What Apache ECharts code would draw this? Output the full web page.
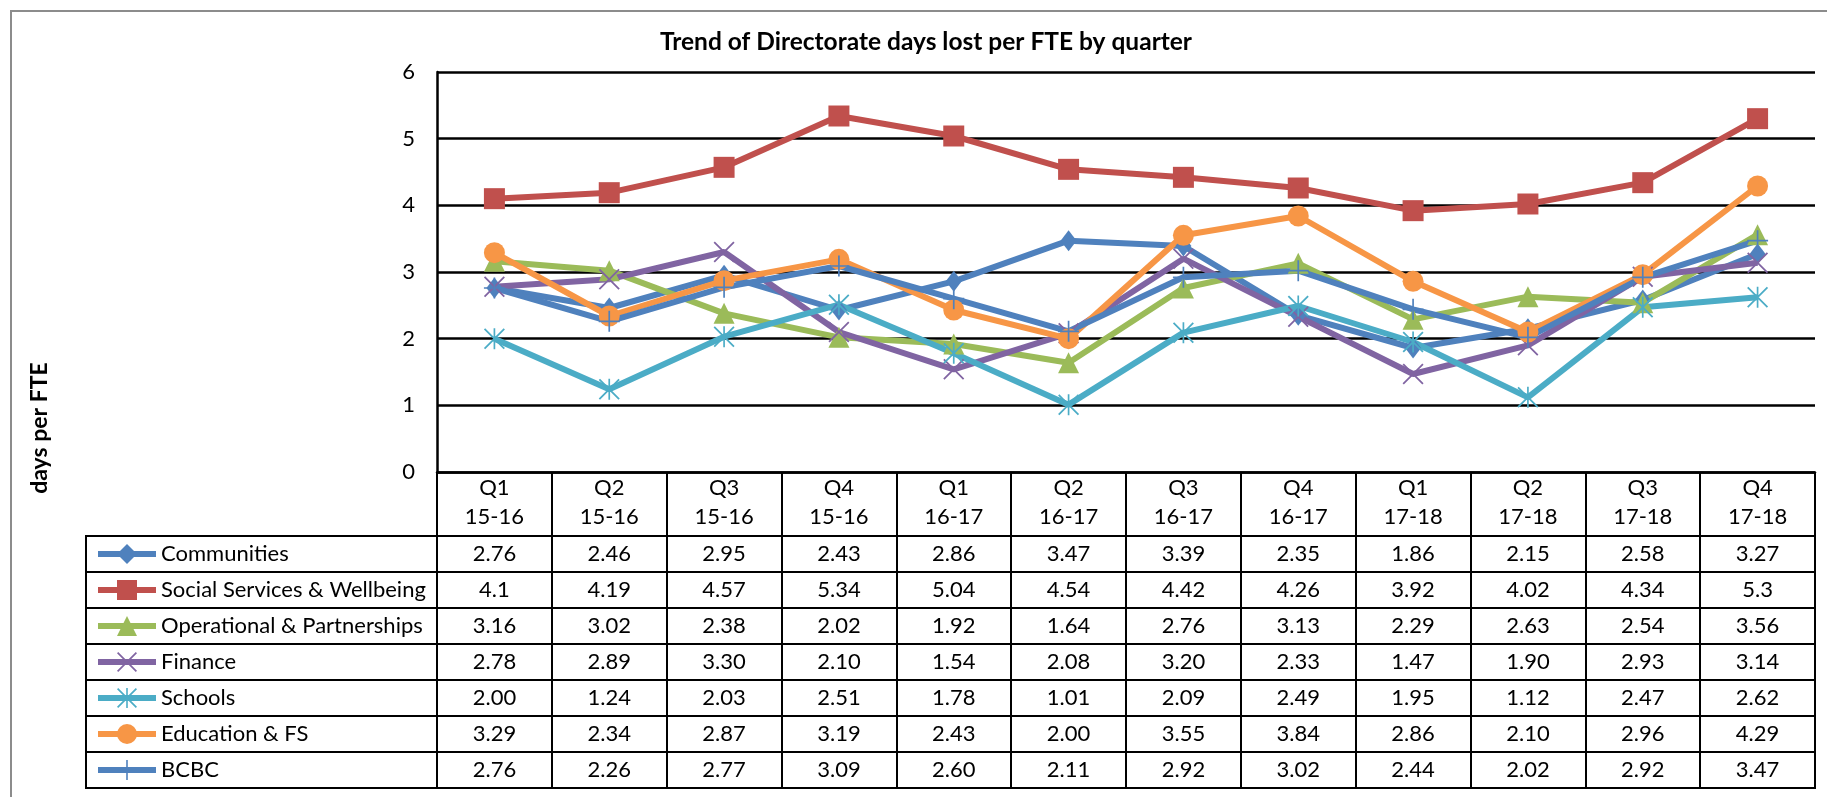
<!DOCTYPE html>
<html>
<head>
<meta charset="utf-8">
<script src="https://cdn.jsdelivr.net/npm/echarts@6/dist/echarts.min.js"></script>
<style>
html, body { margin: 0; padding: 0; background: #fff; }
#chart { width: 1827px; height: 797px; }
</style>
</head>
<body>
<div id="chart"></div>
<script>
// quarters / years on the category axis
const quarters = ['Q1', 'Q2', 'Q3', 'Q4', 'Q1', 'Q2', 'Q3', 'Q4', 'Q1', 'Q2', 'Q3', 'Q4'];
const years = ['15-16', '15-16', '15-16', '15-16', '16-17', '16-17', '16-17', '16-17', '17-18', '17-18', '17-18', '17-18'];

const seriesNames = ['Communities', 'Social Services & Wellbeing', 'Operational & Partnerships', 'Finance', 'Schools', 'Education & FS', 'BCBC'];

const communities = [2.76, 2.46, 2.95, 2.43, 2.86, 3.47, 3.39, 2.35, 1.86, 2.15, 2.58, 3.27];
const socialServices = [4.1, 4.19, 4.57, 5.34, 5.04, 4.54, 4.42, 4.26, 3.92, 4.02, 4.34, 5.3];
const operational = [3.16, 3.02, 2.38, 2.02, 1.92, 1.64, 2.76, 3.13, 2.29, 2.63, 2.54, 3.56];
const finance = [2.78, 2.89, 3.30, 2.10, 1.54, 2.08, 3.20, 2.33, 1.47, 1.90, 2.93, 3.14];
const schools = [2.00, 1.24, 2.03, 2.51, 1.78, 1.01, 2.09, 2.49, 1.95, 1.12, 2.47, 2.62];
const education = [3.29, 2.34, 2.87, 3.19, 2.43, 2.00, 3.55, 3.84, 2.86, 2.10, 2.96, 4.29];
const bcbc = [2.76, 2.26, 2.77, 3.09, 2.60, 2.11, 2.92, 3.02, 2.44, 2.02, 2.92, 3.47];

// table shows 2 decimals except the social services row (general format)
const fixedTwo = [true, false, true, true, true, true, true];

const seriesData = [communities, socialServices, operational, finance, schools, education, bcbc];
const colors = ['#4F81BD', '#C0504D', '#9BBB59', '#8064A2', '#4BACC6', '#F79646', '#4F81BD'];

const X_PATH = 'path://M0,1.2L1.2,0L20,18.8L18.8,20Z M18.8,0L20,1.2L1.2,20L0,18.8Z';
const STAR_PATH = X_PATH + ' M9.2,0h1.6v20h-1.6Z';
const PLUS_PATH = 'path://M9.2,0h1.6v9.2h9.2v1.6h-9.2v9.2h-1.6v-9.2h-9.2v-1.6h9.2Z';
const symbols = ['diamond', 'rect', 'triangle', X_PATH, STAR_PATH, 'circle', PLUS_PATH];
const symbolSizes = [[16, 21], 21, 21, 21, 21, 21, 21];

const FONT = 'Lato';
const categories = quarters.map(function (q, i) { return q + ' ' + years[i]; });

function fmt(v, k) {
    return fixedTwo[k] ? v.toFixed(2) : String(v);
}

const series = seriesNames.map(function (name, k) {
    return {
        name: name,
        type: 'line',
        xAxisIndex: 0,
        yAxisIndex: 0,
        data: seriesData[k],
        symbol: symbols[k],
        symbolSize: symbolSizes[k],
        showAllSymbol: true,
        lineStyle: { color: colors[k], width: 6 },
        itemStyle: { color: colors[k], borderWidth: 0 },
        emphasis: { disabled: true },
        animation: false
    };
});

let option = {
    backgroundColor: '#fff',
    textStyle: { fontFamily: FONT },
    grid: [
        { left: 437, right: 12, top: 72, height: 400 },
        { left: 437, right: 12, top: 536, height: 252, show: true, borderColor: '#000', borderWidth: 2 },
        { left: 86, width: 351, top: 536, height: 252, show: true, borderColor: '#000', borderWidth: 2 }
    ],
    legend: {
        orient: 'vertical',
        left: 95,
        top: 541.5,
        padding: 0,
        itemWidth: 58,
        itemHeight: 25,
        itemGap: 11,
        selectedMode: false,
        lineStyle: { width: 6 },
        textStyle: { fontSize: 22, color: '#000', fontFamily: FONT, lineHeight: 25 },
        data: seriesNames
    },
    xAxis: [
        {
            type: 'category',
            gridIndex: 0,
            data: categories,
            boundaryGap: true,
            axisLine: { lineStyle: { color: '#000', width: 2.5 } },
            axisTick: { show: true, interval: 0, length: 64, lineStyle: { color: '#000', width: 2 } },
            axisLabel: {
                interval: 0,
                margin: 2,
                color: '#000',
                formatter: function (v, i) {
                    let s = '{h|' + quarters[i] + '}\n{h|' + years[i] + '}\n{g| }';
                    seriesData.forEach(function (d, k) {
                        s += '\n{v|' + fmt(d[i], k) + '}';
                    });
                    return s;
                },
                rich: {
                    h: { fontSize: 22, lineHeight: 28.7, color: '#000', fontFamily: FONT },
                    g: { fontSize: 4, lineHeight: 4.6 },
                    v: { fontSize: 22, lineHeight: 36, color: '#000', fontFamily: FONT }
                }
            }
        },
        {
            type: 'category',
            gridIndex: 1,
            data: categories,
            boundaryGap: true,
            axisLine: { show: false },
            axisTick: { show: false },
            axisLabel: { show: false },
            splitLine: { show: true, interval: 0, lineStyle: { color: '#000', width: 2 } }
        },
        { type: 'value', gridIndex: 2, show: false }
    ],
    yAxis: [
        {
            type: 'value',
            gridIndex: 0,
            min: 0,
            max: 6,
            interval: 1,
            axisLine: { show: true, lineStyle: { color: '#000', width: 2.5 } },
            axisTick: { show: false },
            axisLabel: { fontSize: 22, color: '#000', margin: 22, fontFamily: FONT },
            splitLine: { show: true, lineStyle: { color: '#000', width: 2.5 } }
        },
        {
            type: 'category',
            gridIndex: 1,
            data: seriesNames,
            inverse: true,
            axisLine: { show: false },
            axisTick: { show: false },
            axisLabel: { show: false },
            splitLine: { show: true, interval: 0, lineStyle: { color: '#000', width: 2 } }
        },
        {
            type: 'category',
            gridIndex: 2,
            data: seriesNames,
            inverse: true,
            axisLine: { show: false },
            axisTick: { show: false },
            axisLabel: { show: false },
            splitLine: { show: true, interval: 0, lineStyle: { color: '#000', width: 2 } }
        }
    ],
    graphic: [
        {
            type: 'rect',
            shape: { x: 11, y: 11, width: 1840, height: 820 },
            style: { fill: 'none', stroke: '#8c8c8c', lineWidth: 2 },
            silent: true
        },
        {
            type: 'text',
            x: 926,
            y: 42,
            style: {
                text: 'Trend of Directorate days lost per FTE by quarter',
                fontSize: 24.5,
                fontWeight: 'bold',
                fontFamily: FONT,
                fill: '#000',
                align: 'center',
                verticalAlign: 'middle'
            }
        },
        {
            type: 'text',
            x: 40,
            y: 428,
            rotation: Math.PI / 2,
            style: {
                text: 'days per FTE',
                fontSize: 23,
                fontWeight: 'bold',
                fontFamily: FONT,
                fill: '#000',
                align: 'center',
                verticalAlign: 'middle'
            }
        }
    ],
    series: series
};

var myChart = echarts.init(document.getElementById('chart'));
myChart.setOption(option);
</script>
</body>
</html>
